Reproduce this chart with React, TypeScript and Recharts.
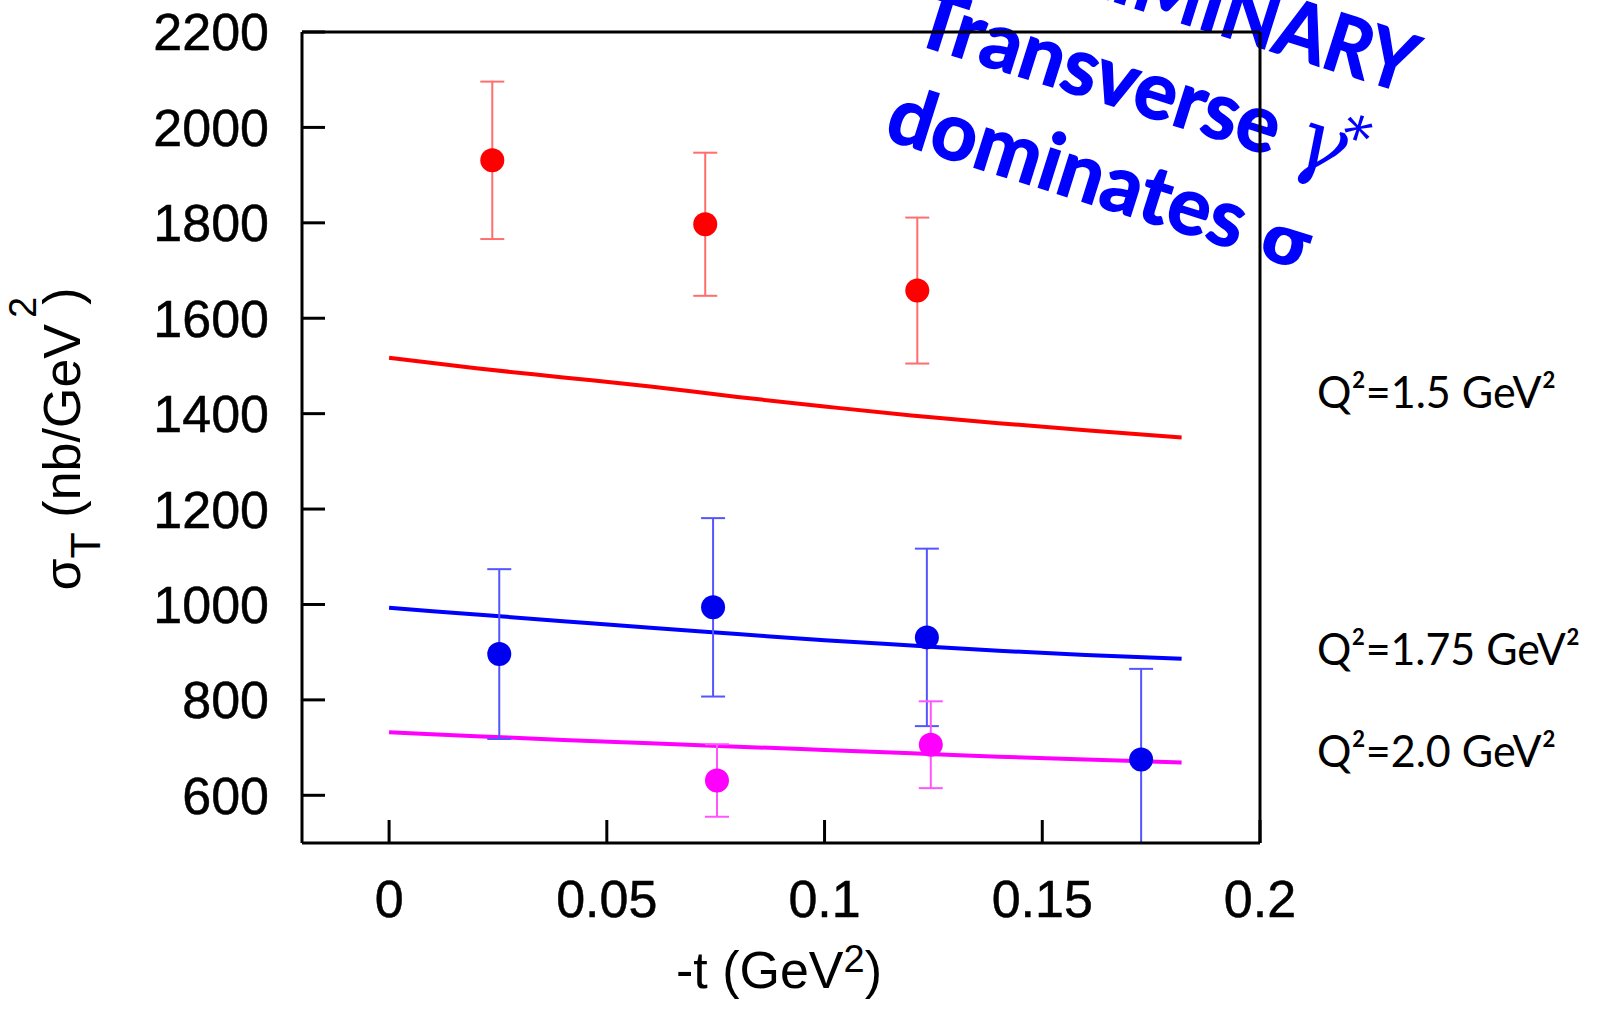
import React from 'react';
import { ComposedChart, Line, Scatter, ErrorBar, XAxis, YAxis } from 'recharts';

const T_TICKS = [0, 0.05, 0.1, 0.15, 0.2];
const SIGMA_TICKS = [600, 800, 1000, 1200, 1400, 1600, 1800, 2000, 2200];

// measured sigma_T with lower / upper errors, per Q^2 setting
const Q150_T = [0.0237, 0.0726, 0.1213];
const Q150_SIGMA = [1931, 1797, 1658];
const Q150_ERR_LO = [165, 150, 153];
const Q150_ERR_HI = [165, 150, 153];

const Q175_T = [0.0253, 0.0744, 0.1235, 0.1727];
const Q175_SIGMA = [896, 994, 931, 675];
const Q175_ERR_LO = [178, 187, 186, 175];
const Q175_ERR_HI = [178, 187, 186, 190];

const Q200_T = [0.0753, 0.1244];
const Q200_SIGMA = [631, 706];
const Q200_ERR_LO = [76, 91];
const Q200_ERR_HI = [76, 91];

// model curves
const CURVE_T = [0, 0.02, 0.04, 0.06, 0.08, 0.1, 0.12, 0.14, 0.16, 0.182];
const CURVE_Q150 = [1517, 1495, 1476, 1457, 1435, 1415, 1396, 1380, 1365, 1350];
const CURVE_Q175 = [993, 979, 965, 951, 938, 925, 914, 903, 894, 886];
const CURVE_Q200 = [732, 724, 716, 709, 702, 695, 688, 681, 675, 669];

const SANS = "'Liberation Sans', Arial, sans-serif";
const NOTE = "Lato, 'Open Sans', sans-serif";

const points = (t: number[], s: number[], lo: number[], hi: number[]) =>
  t.map((x, i) => ({ t: x, sigma: s[i], err: [lo[i], hi[i]] }));
const curve = (s: number[]) => CURVE_T.map((x, i) => ({ t: x, sigma: s[i] }));

const dot = (color: string) => (p: any) => <circle cx={p.cx} cy={p.cy} r={12} fill={color} />;

const frame = { stroke: '#000', strokeWidth: 3 };
const tickFont = { fontSize: 52, fill: '#000', fontFamily: SANS, stroke: '#000', strokeWidth: 0.5 };
const noteText = { fontFamily: NOTE, fontWeight: 700, fontSize: 80, stroke: '#0000ff', strokeWidth: 1.5 };

export default function App() {
  return (
    <div style={{ position: 'absolute', left: 0, top: 0, width: 1598, height: 1013, background: '#fff', overflow: 'hidden' }}>
      <ComposedChart width={1598} height={1013} margin={{ top: 31, right: 337, bottom: 50, left: 0 }}>
        <XAxis xAxisId="top" orientation="top" type="number" dataKey="t" domain={[-0.02, 0.2]} ticks={T_TICKS}
          interval={0} allowDataOverflow height={1} tickSize={-23} tick={false} axisLine={frame} tickLine={frame} />
        <YAxis yAxisId="l" type="number" dataKey="sigma" domain={[500, 2200]} ticks={SIGMA_TICKS} interval={0}
          allowDataOverflow width={302} tickSize={-23} tickMargin={56} tick={tickFont}
          axisLine={frame} tickLine={frame} />
        <YAxis yAxisId="r" orientation="right" type="number" dataKey="sigma" domain={[500, 2200]} ticks={SIGMA_TICKS}
          interval={0} allowDataOverflow width={1} tickSize={-23} tick={false} axisLine={frame} tickLine={frame} />

        <Line xAxisId="b" yAxisId="l" data={curve(CURVE_Q150)} dataKey="sigma" type="monotone" stroke="#ff0000"
          strokeWidth={4} dot={false} isAnimationActive={false} />
        <Line xAxisId="b" yAxisId="l" data={curve(CURVE_Q175)} dataKey="sigma" type="monotone" stroke="#0000ff"
          strokeWidth={4} dot={false} isAnimationActive={false} />
        <Line xAxisId="b" yAxisId="l" data={curve(CURVE_Q200)} dataKey="sigma" type="monotone" stroke="#ff00ff"
          strokeWidth={4} dot={false} isAnimationActive={false} />

        <Scatter xAxisId="b" yAxisId="l" data={points(Q150_T, Q150_SIGMA, Q150_ERR_LO, Q150_ERR_HI)} dataKey="sigma"
          shape={dot('#ff0000')} isAnimationActive={false}>
          <ErrorBar dataKey="err" direction="y" width={12} stroke="#ff6e6e" strokeWidth={2} isAnimationActive={false} />
        </Scatter>
        <Scatter xAxisId="b" yAxisId="l" data={points(Q175_T, Q175_SIGMA, Q175_ERR_LO, Q175_ERR_HI)} dataKey="sigma"
          shape={dot('#0000f0')} isAnimationActive={false}>
          <ErrorBar dataKey="err" direction="y" width={12} stroke="#5555ff" strokeWidth={2} isAnimationActive={false} />
        </Scatter>
        <Scatter xAxisId="b" yAxisId="l" data={points(Q200_T, Q200_SIGMA, Q200_ERR_LO, Q200_ERR_HI)} dataKey="sigma"
          shape={dot('#ff00ff')} isAnimationActive={false}>
          <ErrorBar dataKey="err" direction="y" width={12} stroke="#ff55ff" strokeWidth={2} isAnimationActive={false} />
        </Scatter>

        {/* bottom axis last so the frame sits over the clipped error bar */}
        <XAxis xAxisId="b" type="number" dataKey="t" domain={[-0.02, 0.2]} ticks={T_TICKS} interval={0}
          allowDataOverflow height={120} tickSize={-23} tickMargin={60} tick={tickFont}
          axisLine={frame} tickLine={frame} zIndex={700} />

        {/* axis titles */}
        <text transform="rotate(-90, 80, 439)" x={80} y={439} textAnchor="middle" fontFamily={SANS} fontSize={52} fill="#000">
          σ<tspan fontSize={43} dy={20}>T</tspan>
          <tspan dy={-20}> (nb/GeV</tspan>
          <tspan fontSize={38} dx={6} dy={-44}>2</tspan>
          <tspan dx={-8} dy={44}>)</tspan>
        </text>
        <text x={779} y={988} textAnchor="middle" fontFamily={SANS} fontSize={52} fill="#000">
          -t (GeV<tspan fontSize={38} dy={-16}>2</tspan>
          <tspan dy={16}>)</tspan>
        </text>

        {/* Q^2 labels */}
        <text x={1317} y={408} fontFamily={NOTE} fontSize={44} fill="#000" textLength={239} lengthAdjust="spacingAndGlyphs">Q²=1.5 GeV²</text>
        <text x={1317} y={665} fontFamily={NOTE} fontSize={44} fill="#000" textLength={263} lengthAdjust="spacingAndGlyphs">Q²=1.75 GeV²</text>
        <text x={1317} y={767} fontFamily={NOTE} fontSize={44} fill="#000" textLength={239} lengthAdjust="spacingAndGlyphs">Q²=2.0 GeV²</text>

        {/* slanted note */}
        <g transform="translate(909.7, 41.9) rotate(17.5)" fill="#0000ff">
          <text x={5} y={-100} {...noteText} textLength={484} lengthAdjust="spacingAndGlyphs">PRELIMINARY</text>
          <text x={0} y={0} {...noteText} textLength={379} lengthAdjust="spacingAndGlyphs">Transverse</text>
          <text x={398} y={0} fontFamily="'DejaVu Serif', serif" fontStyle="italic" fontSize={84}>γ</text>
          <text x={440} y={-24} fontFamily="'DejaVu Serif', serif" fontSize={56}>*</text>
          <text x={3} y={100} {...noteText} textLength={371} lengthAdjust="spacingAndGlyphs">dominates</text>
          <text x={395} y={100} fontFamily="'DejaVu Sans', sans-serif" fontWeight={700} fontSize={66}>σ</text>
        </g>
      </ComposedChart>
    </div>
  );
}
